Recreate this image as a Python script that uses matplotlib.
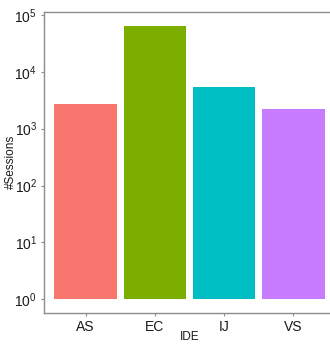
import matplotlib
matplotlib.use("Agg")
import matplotlib.pyplot as plt
from matplotlib.ticker import LogLocator, LogFormatterMathtext

# data
ides = ["AS", "EC", "IJ", "VS"]
sessions = [2680, 64500, 5300, 2180]
colors = ["#F8766D", "#7CAE00", "#00BFC4", "#C77CFF"]

plt.rcParams['font.family'] = ['Liberation Sans', 'DejaVu Sans']
plt.rcParams['mathtext.fontset'] = 'custom'
plt.rcParams['mathtext.rm'] = 'Liberation Sans'
plt.rcParams['mathtext.it'] = 'Liberation Sans'

W, H = 330, 344
fig = plt.figure(figsize=(W / 100, H / 100), dpi=100)
ax = fig.add_axes([44 / W, 1 - 313 / H, 291 / W, 301 / H])

x = list(range(1, len(ides) + 1))
ax.bar(x, [s - 1 for s in sessions], bottom=1, width=0.9, color=colors)
ax.set_yscale('log')
ax.set_ylim(10 ** -0.24, 10 ** 5.05)
ax.set_xlim(0.4, 4.6)
ax.yaxis.set_major_locator(LogLocator(base=10, numticks=10))
ax.yaxis.set_major_formatter(LogFormatterMathtext())
ax.yaxis.set_minor_locator(plt.NullLocator())
ax.set_xticks(x)
ax.set_xticklabels(ides)

for s in ax.spines.values():
    s.set_color('#8c8c8c')
    s.set_linewidth(1.0)
ax.tick_params(colors='#8c8c8c', labelcolor='#1a1a1a', labelsize=10,
               length=2.5, width=0.8, pad=2.5)

# axis titles placed by hand so they stay inside the small canvas
fig.text(11 / W, 1 - 162 / H, '#Sessions', rotation=90, ha='center',
         va='center', fontsize=8.5, color='#1a1a1a')
fig.text(190 / W, 1 - 337 / H, 'IDE', ha='center', va='center',
         fontsize=8.5, color='#1a1a1a')

fig.savefig('out.png', dpi=100)
